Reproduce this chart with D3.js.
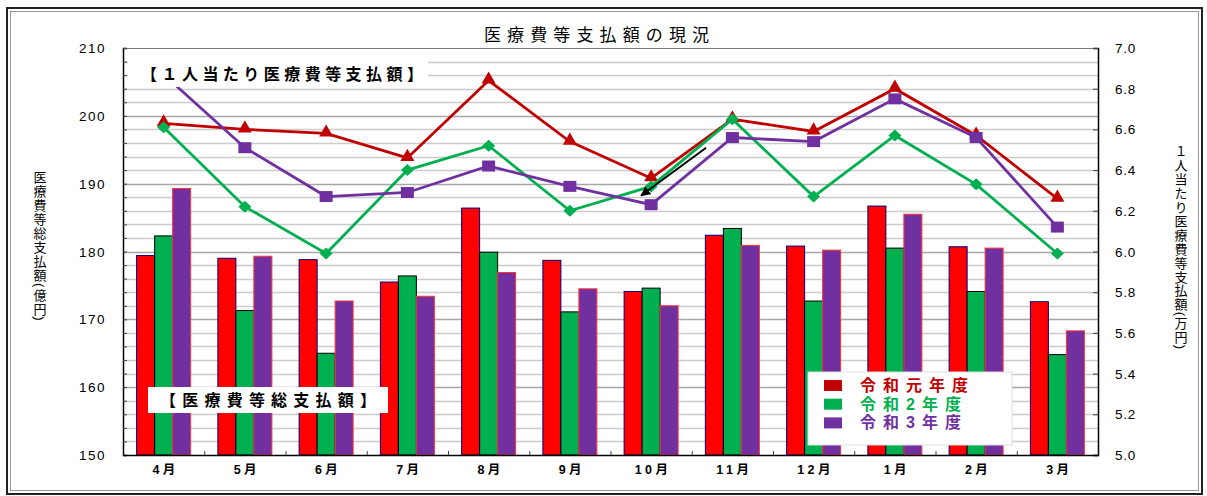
<!DOCTYPE html>
<html><head><meta charset="utf-8">
<script src="https://cdn.jsdelivr.net/npm/d3@7"></script>
<style>
html,body{margin:0;padding:0;background:#fff;}
svg{display:block;font-family:"Liberation Sans","Noto Sans CJK JP",sans-serif;}
</style></head>
<body>
<svg id="chart" width="1207" height="496"></svg>
<script>
const months = ["4月","5月","6月","7月","8月","9月","10月","11月","12月","1月","2月","3月"];
const seriesNames = ["令和元年度","令和2年度","令和3年度"];
// 医療費等総支払額(億円) — bars, left axis
const totalR1 = [179.4,179.0,178.8,175.5,186.4,178.7,174.1,182.4,180.8,186.7,180.7,172.6];
const totalR2 = [182.3,171.3,165.0,176.4,179.9,171.1,174.6,183.4,172.7,180.5,174.1,164.8];
const totalR3 = [189.3,179.3,172.7,173.4,176.9,174.5,172.0,180.9,180.2,185.5,180.5,168.3];
// 1人当たり医療費等支払額(万円) — lines, right axis
const perCapR1 = [6.63,6.60,6.58,6.46,6.84,6.54,6.36,6.65,6.59,6.80,6.57,6.26];
const perCapR2 = [6.61,6.22,5.99,6.40,6.52,6.20,6.32,6.65,6.27,6.57,6.33,5.99];
const perCapR3 = [6.87,6.51,6.27,6.29,6.42,6.32,6.23,6.56,6.54,6.75,6.56,6.12];
const leftTicks = [150,160,170,180,190,200,210];
const rightTicks = [5.0,5.2,5.4,5.6,5.8,6.0,6.2,6.4,6.6,6.8,7.0];

const barColors = ["#ff0000","#00b050","#7030a0"];
const barStrokes = ["#000080","#000000","#ff3333"];
const lineColors = ["#c00000","#00b050","#7030a0"];

const svg = d3.select("#chart");
const L = 123, R = 1098, T = 48, B = 455;

// outer frame
svg.append("rect").attr("x",7).attr("y",8).attr("width",1195).attr("height",486)
  .attr("fill","#fff").attr("stroke","#222").attr("stroke-width",2);
svg.append("rect").attr("x",10.5).attr("y",11.5).attr("width",1188).attr("height",479)
  .attr("fill","none").attr("stroke","#999").attr("stroke-width",1);

const x = d3.scaleBand().domain(months).range([L,R]).padding(0);
const xi = d3.scaleBand().domain([0,1,2]).range([-27,27]).padding(0);
const yL = d3.scaleLinear().domain([150,210]).range([B,T]);
const yR = d3.scaleLinear().domain([5.0,7.0]).range([B,T]);

// gridlines every 2 units
const grid = d3.range(152,210,2);
svg.append("g").selectAll("line").data(grid).join("line")
  .attr("x1",L).attr("x2",R)
  .attr("y1",d=>Math.round(yL(d))+0.5).attr("y2",d=>Math.round(yL(d))+0.5)
  .attr("stroke",d=>d%10===0?"#a6a6a6":"#cccccc").attr("stroke-width",1.4);
svg.append("line").attr("x1",L).attr("x2",R).attr("y1",T+0.5).attr("y2",T+0.5).attr("stroke","#777");

// bars
const totals = [totalR1,totalR2,totalR3];
totals.forEach((arr,si)=>{
  svg.append("g").selectAll("rect").data(arr).join("rect")
    .attr("x",(d,i)=>x(months[i])+x.bandwidth()/2+xi(si))
    .attr("width",xi.bandwidth())
    .attr("y",d=>yL(d))
    .attr("height",d=>B-yL(d))
    .attr("fill",barColors[si])
    .attr("stroke",barStrokes[si]).attr("stroke-width",1);
});

// axes
const gL = svg.append("g").attr("transform",`translate(${L},0)`)
  .call(d3.axisLeft(yL).tickValues(d3.range(150,211,2)).tickSize(-4).tickFormat(""));
gL.select(".domain").attr("stroke","#000").attr("stroke-width",1.5);
gL.selectAll(".tick line").attr("stroke","#444");
svg.append("g").selectAll("text").data(leftTicks).join("text")
  .attr("x",106).attr("y",d=>yL(d)+5).attr("text-anchor","end")
  .attr("font-size",13.5).attr("letter-spacing",1.5).attr("fill","#000").text(d=>d);

const gR = svg.append("g").attr("transform",`translate(${R},0)`)
  .call(d3.axisRight(yR).tickValues(rightTicks).tickSize(-5).tickFormat(""));
gR.select(".domain").attr("stroke","#000").attr("stroke-width",1.5);
gR.selectAll(".tick line").attr("stroke","#444");
svg.append("g").selectAll("text").data(rightTicks).join("text")
  .attr("x",1115).attr("y",d=>yR(d)+5).attr("text-anchor","start")
  .attr("font-size",13.5).attr("letter-spacing",0.8).attr("fill","#000").text(d=>d.toFixed(1));

const gX = svg.append("g").attr("transform",`translate(0,${B})`)
  .call(d3.axisBottom(x).tickValues([]).tickSizeOuter(0));
gX.select(".domain").attr("stroke","#000").attr("stroke-width",1.5);
svg.append("g").selectAll("line").data(months.slice(1)).join("line")
  .attr("x1",d=>x(d)+0.5).attr("x2",d=>x(d)+0.5).attr("y1",B-4).attr("y2",B)
  .attr("stroke","#444");
svg.append("g").selectAll("text").data(months).join("text")
  .attr("x",d=>x(d)+x.bandwidth()/2+2).attr("y",474).attr("text-anchor","middle")
  .attr("font-size",12.5).attr("font-weight","bold").attr("letter-spacing",3.5).attr("fill","#000")
  .text(d=>d);

// lines
const perCaps = [perCapR1,perCapR2,perCapR3];
const line = d3.line().x((d,i)=>x(months[i])+x.bandwidth()/2).y(d=>yR(d));
svg.append("clipPath").attr("id","plotclip").append("rect")
  .attr("x",L).attr("y",T).attr("width",R-L+20).attr("height",B-T);
const tri = d3.symbol().type(d3.symbolTriangle).size(85);
perCaps.forEach((arr,si)=>{
  const g = svg.append("g").attr("clip-path","url(#plotclip)");
  g.append("path").datum(arr).attr("d",line).attr("fill","none")
    .attr("stroke",lineColors[si]).attr("stroke-width",2.8);
  const pts = g.selectAll(".m").data(arr).join("path")
    .attr("transform",(d,i)=>`translate(${x(months[i])+x.bandwidth()/2},${yR(d)})`)
    .attr("fill",lineColors[si]);
  if(si===0) pts.attr("d",tri()).attr("transform",(d,i)=>`translate(${x(months[i])+x.bandwidth()/2},${yR(d)-1})`);
  if(si===1) pts.attr("d","M0,-6L6.5,0L0,6L-6.5,0Z");
  if(si===2) pts.attr("d","M-6.5,-5.5H6.5V5.5H-6.5Z");
});

// arrow annotation
const c10 = x("10月")+x.bandwidth()/2;
svg.append("defs").append("marker").attr("id","ah").attr("viewBox","0 0 10 10")
  .attr("refX",9).attr("refY",5).attr("markerWidth",5).attr("markerHeight",5).attr("orient","auto")
  .append("path").attr("d","M0,0L10,5L0,10Z").attr("fill","#000");
svg.append("line").attr("x1",c10+55).attr("y1",yR(6.51)).attr("x2",c10-10).attr("y2",yR(6.275))
  .attr("stroke","#000").attr("stroke-width",2).attr("marker-end","url(#ah)");

// per-capita label box
svg.append("rect").attr("x",128).attr("y",53).attr("width",300).attr("height",34).attr("fill","#fff");
svg.append("text").attr("x",141).attr("y",80).attr("font-size",16).attr("font-weight","bold")
  .attr("textLength",282).attr("lengthAdjust","spacing").attr("fill","#000")
  .text("【１人当たり医療費等支払額】");

// total label box
svg.append("rect").attr("x",148).attr("y",387).attr("width",240).attr("height",26).attr("fill","#fff");
svg.append("text").attr("x",160).attr("y",406).attr("font-size",16).attr("font-weight","bold")
  .attr("textLength",216).attr("lengthAdjust","spacing").attr("fill","#000")
  .text("【医療費等総支払額】");

// title
svg.append("text").attr("x",484).attr("y",41).attr("font-size",17)
  .attr("textLength",225).attr("lengthAdjust","spacing").attr("fill","#000")
  .text("医療費等支払額の現況");

// legend
const lg = svg.append("g");
lg.append("rect").attr("x",808).attr("y",372).attr("width",204).attr("height",73)
  .attr("fill","#fff").attr("stroke","#ddd");
seriesNames.forEach((n,i)=>{
  const cy = 385 + i*18.7;
  lg.append("rect").attr("x",824).attr("y",cy-5).attr("width",18).attr("height",11).attr("fill",lineColors[i]);
  lg.append("text").attr("x",860).attr("y",cy+6).attr("font-size",16).attr("font-weight","bold")
    .attr("letter-spacing",7).attr("fill",lineColors[i]).text(n);
});

// vertical axis titles
svg.append("text").attr("x",39).attr("y",171).attr("font-size",13)
  .style("writing-mode","vertical-rl").attr("letter-spacing",1.0).attr("fill","#000")
  .text("医療費等総支払額(億円)");
svg.append("text").attr("x",1180).attr("y",145).attr("font-size",13)
  .style("writing-mode","vertical-rl").attr("letter-spacing",0.9).attr("fill","#000")
  .text("１人当たり医療費等支払額(万円)");
</script>
</body></html>
